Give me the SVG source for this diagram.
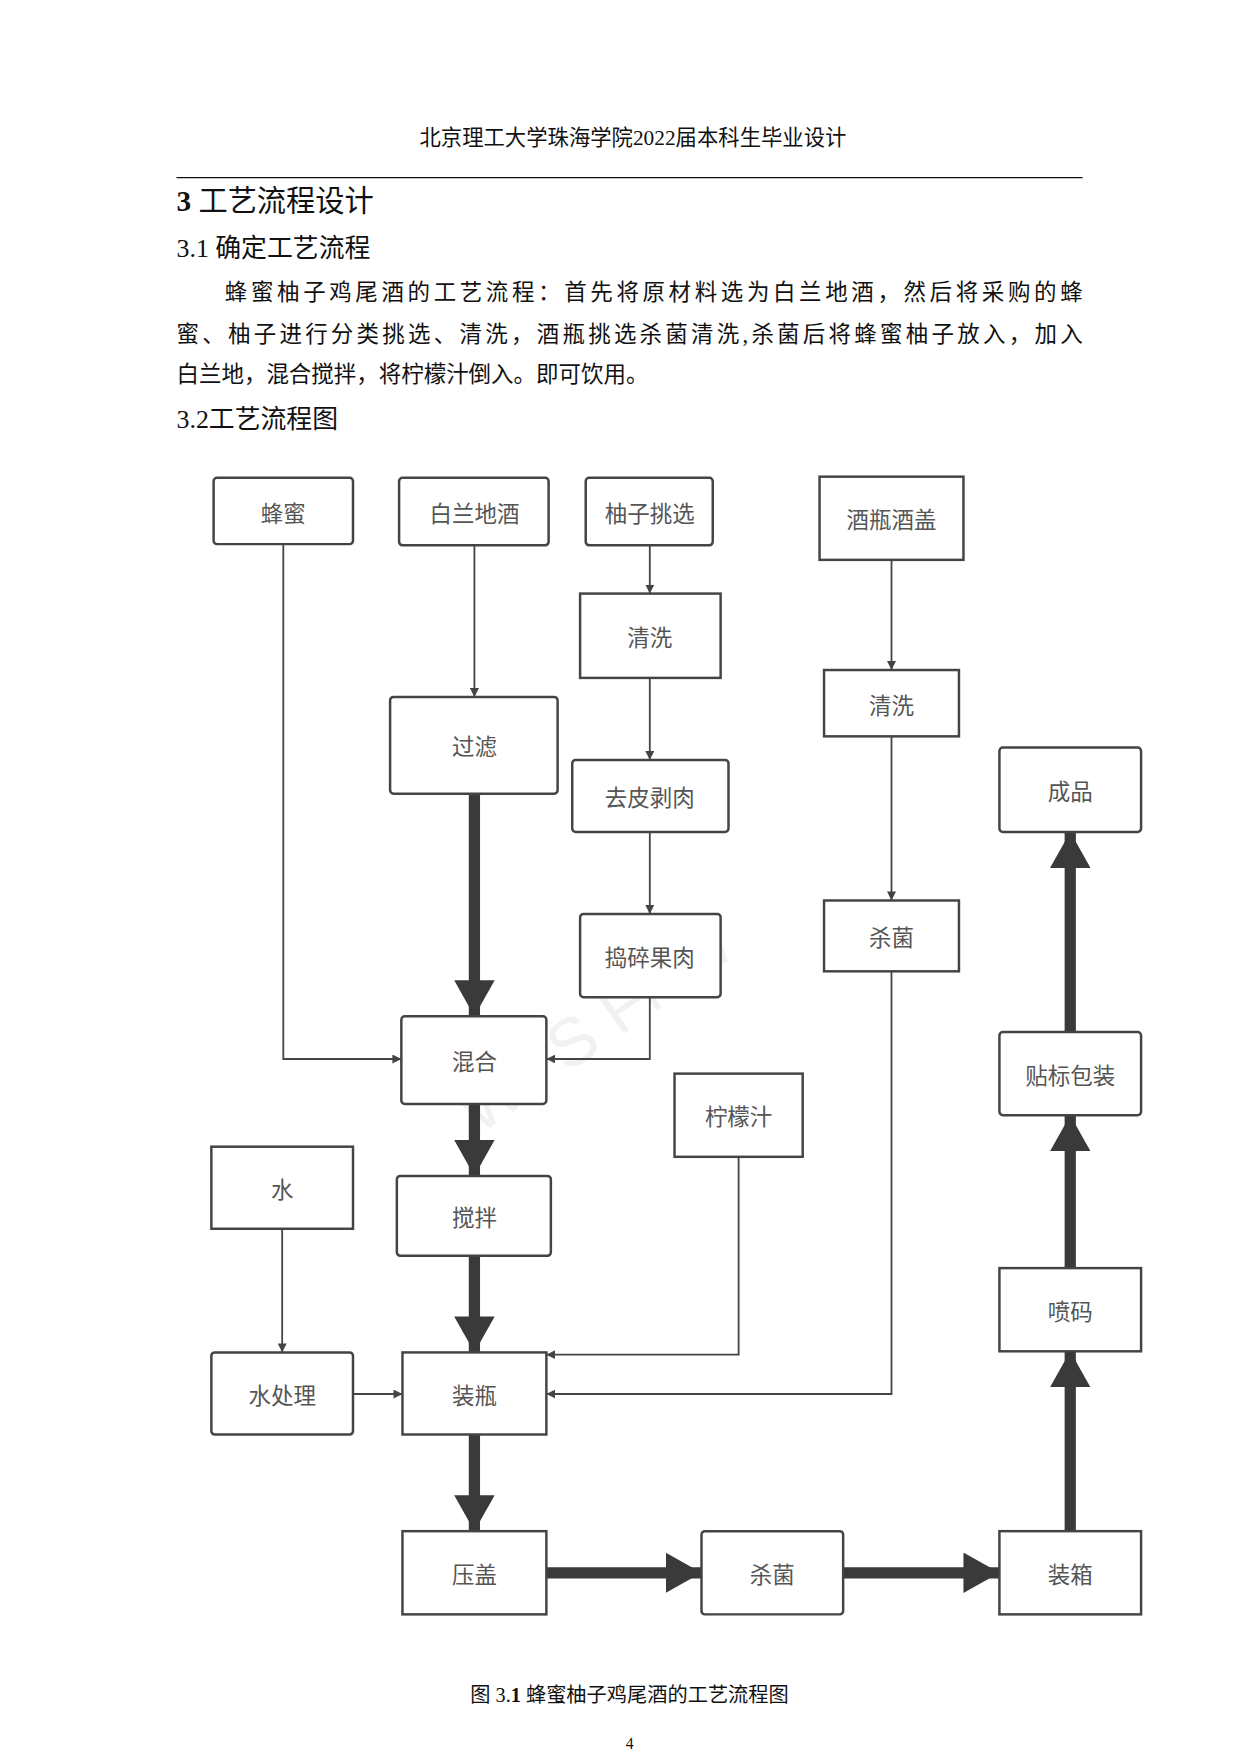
<svg xmlns="http://www.w3.org/2000/svg" width="1240" height="1754" viewBox="0 0 1240 1754">
<style>
.t{font-family:"Liberation Serif","Noto Sans CJK SC",serif;fill:#111}
.n rect{fill:#fff;stroke:#444;stroke-width:2.2}
.n text{font-family:"Noto Sans CJK SC",sans-serif;font-size:20px;fill:#555;text-anchor:middle;dominant-baseline:central}
.thin{fill:none;stroke:#444;stroke-width:1.6;marker-end:url(#a)}
.thick{fill:none;stroke:#3a3a3a;stroke-width:10;marker-end:url(#b)}
</style>
<defs>
<marker id="a" viewBox="0 0 10 10" refX="10" refY="5" markerWidth="8" markerHeight="8" markerUnits="userSpaceOnUse" orient="auto"><path d="M0,0L10,5L0,10z" fill="#444"/></marker>
<marker id="b" viewBox="0 0 10 10" refX="10" refY="5" markerWidth="3.2" markerHeight="3.6" markerUnits="strokeWidth" orient="auto" preserveAspectRatio="none"><path d="M0,0L10,5L0,10z" fill="#3a3a3a"/></marker>
</defs>
<rect width="1240" height="1754" fill="#fff"/>
<g transform="scale(1.12421)">
<text class="t" x="563" y="129" font-size="19" text-anchor="middle">北京理工大学珠海学院2022届本科生毕业设计</text>
<line x1="157" y1="158" x2="963" y2="158" stroke="#111" stroke-width="1.2"/>
<text class="t" x="157" y="188" font-size="26"><tspan font-weight="bold">3</tspan> 工艺流程设计</text>
<text class="t" x="157" y="229" font-size="23">3.1  确定工艺流程</text>
<text class="t" x="200" y="267" font-size="20" textLength="763">蜂蜜柚子鸡尾酒的工艺流程：首先将原材料选为白兰地酒，然后将采购的蜂</text>
<text class="t" x="157" y="304" font-size="20" textLength="806">蜜、柚子进行分类挑选、清洗，酒瓶挑选杀菌清洗,杀菌后将蜂蜜柚子放入，加入</text>
<text class="t" x="157" y="340" font-size="20">白兰地，混合搅拌，将柠檬汁倒入。即可饮用。</text>
<text class="t" x="157" y="381" font-size="23">3.2工艺流程图</text>
<text x="540" y="930" font-family="Liberation Sans,sans-serif" font-size="60" fill="#000" opacity="0.05" transform="rotate(-35 540 930)" text-anchor="middle">WPS Flow</text>

<g id="connectors">
<path class="thin" d="M252,484V942H357"/>
<path class="thin" d="M422,485V620"/>
<path class="thin" d="M578,485V528"/>
<path class="thin" d="M578,603V676"/>
<path class="thin" d="M578,740V813"/>
<path class="thin" d="M578,887V942H486"/>
<path class="thin" d="M793,498V596"/>
<path class="thin" d="M793,655V801"/>
<path class="thin" d="M793,864V1240H486"/>
<path class="thin" d="M657,1029V1205H486"/>
<path class="thin" d="M251,1093V1203"/>
<path class="thin" d="M314,1240H358"/>
<path class="thick" d="M422,706V904"/>
<path class="thick" d="M422,982V1046"/>
<path class="thick" d="M422,1117V1203"/>
<path class="thick" d="M422,1276V1362"/>
<path class="thick" d="M486,1399H624"/>
<path class="thick" d="M750,1399H889"/>
<path class="thick" d="M952,1362V1202"/>
<path class="thick" d="M952,1128V992"/>
<path class="thick" d="M952,918V740"/>
</g>

<g id="n1" class="n"><rect x="190" y="425" width="124" height="59" rx="3"/><text x="252" y="455">蜂蜜</text></g>
<g id="n2" class="n"><rect x="355" y="425" width="133" height="60" rx="3"/><text x="422" y="455">白兰地酒</text></g>
<g id="n3" class="n"><rect x="521" y="425" width="113" height="60" rx="3"/><text x="578" y="455">柚子挑选</text></g>
<g id="n4" class="n"><rect x="729" y="424" width="128" height="74"/><text x="793" y="461">酒瓶酒盖</text></g>
<g id="n5" class="n"><rect x="516" y="528" width="125" height="75"/><text x="578" y="566">清洗</text></g>
<g id="n6" class="n"><rect x="733" y="596" width="120" height="59"/><text x="793" y="626">清洗</text></g>
<g id="n7" class="n"><rect x="347" y="620" width="149" height="86" rx="3"/><text x="422" y="663">过滤</text></g>
<g id="n8" class="n"><rect x="509" y="676" width="139" height="64" rx="3"/><text x="578" y="708">去皮剥肉</text></g>
<g id="n9" class="n"><rect x="889" y="665" width="126" height="75" rx="3"/><text x="952" y="703">成品</text></g>
<g id="n10" class="n"><rect x="516" y="813" width="125" height="74" rx="3"/><text x="578" y="850">捣碎果肉</text></g>
<g id="n11" class="n"><rect x="733" y="801" width="120" height="63"/><text x="793" y="833">杀菌</text></g>
<g id="n12" class="n"><rect x="357" y="904" width="129" height="78" rx="3"/><text x="422" y="943">混合</text></g>
<g id="n13" class="n"><rect x="600" y="955" width="114" height="74"/><text x="657" y="992">柠檬汁</text></g>
<g id="n14" class="n"><rect x="889" y="918" width="126" height="74" rx="3"/><text x="952" y="955">贴标包装</text></g>
<g id="n15" class="n"><rect x="188" y="1020" width="126" height="73"/><text x="251" y="1057">水</text></g>
<g id="n16" class="n"><rect x="353" y="1046" width="137" height="71" rx="3"/><text x="422" y="1082">搅拌</text></g>
<g id="n17" class="n"><rect x="889" y="1128" width="126" height="74"/><text x="952" y="1165">喷码</text></g>
<g id="n18" class="n"><rect x="188" y="1203" width="126" height="73" rx="3"/><text x="251" y="1240">水处理</text></g>
<g id="n19" class="n"><rect x="358" y="1203" width="128" height="73"/><text x="422" y="1240">装瓶</text></g>
<g id="n20" class="n"><rect x="358" y="1362" width="128" height="74"/><text x="422" y="1399">压盖</text></g>
<g id="n21" class="n"><rect x="624" y="1362" width="126" height="74" rx="3"/><text x="687" y="1399">杀菌</text></g>
<g id="n22" class="n"><rect x="889" y="1362" width="126" height="74"/><text x="952" y="1399">装箱</text></g>

<text class="t" x="560" y="1514" font-size="18" text-anchor="middle">图  3.<tspan font-weight="bold">1</tspan> 蜂蜜柚子鸡尾酒的工艺流程图</text>
<text class="t" x="560" y="1556" font-size="14" text-anchor="middle">4</text>
</g>
</svg>
